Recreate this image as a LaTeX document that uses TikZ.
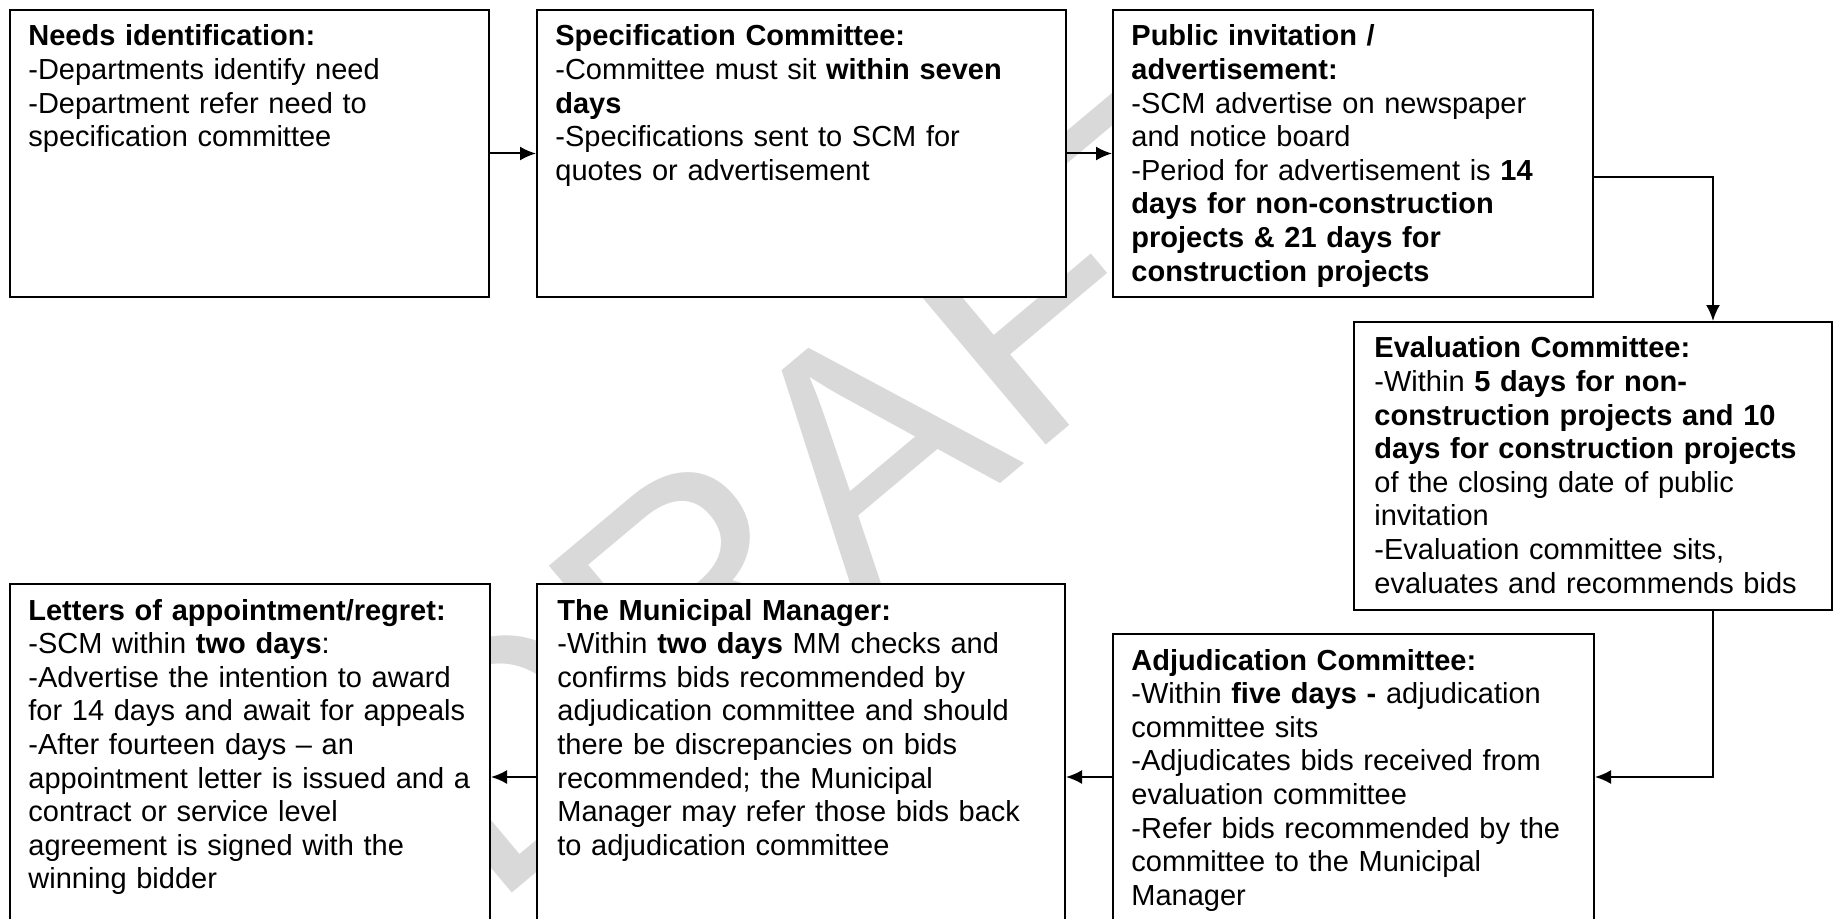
\documentclass[tikz,border=0pt]{standalone}
\usepackage{fontspec}
\setmainfont{Liberation Sans}
\usetikzlibrary{arrows.meta}

\tikzset{
  stage/.style={draw, line width=1pt, fill=white, anchor=north west, inner sep=0pt},
  stagetext/.style={anchor=base west, inner sep=0pt, align=left, font=\fontsize{14.5pt}{16.8pt}\selectfont},
  flow/.style={line width=1pt, -{Latex[length=8pt,width=7pt]}},
  draftmark/.style={text=black!15, font=\fontsize{165pt}{165pt}\selectfont, rotate=40}
}

\begin{document}
\begin{tikzpicture}[x=0.5pt,y=0.5pt]
\useasboundingbox (0,0) rectangle (1833,918);
\clip (0,0) rectangle (1833,918);
\node[draftmark] (draft) at (840,448) {DRAFT};

% top row
\node[stage, minimum width=239.5pt, minimum height=143.5pt] (needs) at (9,909) {};
\node[stage, minimum width=264.5pt, minimum height=143.5pt] (spec) at (536,909) {};
\node[stage, minimum width=240pt, minimum height=143.5pt] (public) at (1112,909) {};
\node[stage, minimum width=239pt, minimum height=144pt] (eval) at (1353,597) {};
% bottom row
\node[stage, minimum width=240.5pt, minimum height=148.5pt] (adjud) at (1112,285) {};
\node[stage, minimum width=264pt, minimum height=173.5pt] (mm) at (536,335) {};
\node[stage, minimum width=240pt, minimum height=173.5pt] (letters) at (9,335) {};

\node[stagetext, text width=225pt] (needstext) at ([shift={(19,-37)}]needs.north west)
  {\textbf{Needs identification:}\\
   -Departments identify need\\
   -Department refer need to\\
   specification committee};
\node[stagetext, text width=250pt] (spectext) at ([shift={(19,-37)}]spec.north west)
  {\textbf{Specification Committee:}\\
   -Committee must sit \textbf{within seven}\\
   \textbf{days}\\
   -Specifications sent to SCM for\\
   quotes or advertisement};
\node[stagetext, text width=225pt] (publictext) at ([shift={(19,-37)}]public.north west)
  {\textbf{Public invitation /}\\
   \textbf{advertisement:}\\
   -SCM advertise on newspaper\\
   and notice board\\
   -Period for advertisement is \textbf{14}\\
   \textbf{days for non-construction}\\
   \textbf{projects \& 21 days for}\\
   \textbf{construction projects}};
\node[stagetext, text width=225pt] (evaltext) at ([shift={(21,-37)}]eval.north west)
  {\textbf{Evaluation Committee:}\\
   -Within \textbf{5 days for non-}\\
   \textbf{construction projects and 10}\\
   \textbf{days for construction projects}\\
   of the closing date of public\\
   invitation\\
   -Evaluation committee sits,\\
   evaluates and recommends bids};
\node[stagetext, text width=225pt] (adjudtext) at ([shift={(19,-37)}]adjud.north west)
  {\textbf{Adjudication Committee:}\\
   -Within \textbf{five days -} adjudication\\
   committee sits\\
   -Adjudicates bids received from\\
   evaluation committee\\
   -Refer bids recommended by the\\
   committee to the Municipal\\
   Manager};
\node[stagetext, text width=250pt] (mmtext) at ([shift={(21,-37)}]mm.north west)
  {\textbf{The Municipal Manager:}\\
   -Within \textbf{two days} MM checks and\\
   confirms bids recommended by\\
   adjudication committee and should\\
   there be discrepancies on bids\\
   recommended; the Municipal\\
   Manager may refer those bids back\\
   to adjudication committee};
\node[stagetext, text width=228pt] (letterstext) at ([shift={(19,-37)}]letters.north west)
  {\textbf{Letters of appointment/regret:}\\
   -SCM within \textbf{two days}:\\
   -Advertise the intention to award\\
   for 14 days and await for appeals\\
   -After fourteen days – an\\
   appointment letter is issued and a\\
   contract or service level\\
   agreement is signed with the\\
   winning bidder};

% connectors
\coordinate (adjin) at ([yshift=-72pt]adjud.north east);
\coordinate (adjout) at ([yshift=-72pt]adjud.north west);
\draw[flow] (needs.east) -- (spec.west);
\draw[flow] (spec.east) -- (public.west);
\draw[flow] ([yshift=-12pt]public.east) -| ([xshift=60pt]eval.north);
\draw[flow] ([xshift=60pt]eval.south) |- (adjin);
\draw[flow] (adjout) -- (adjout -| mm.east);
\draw[flow] (mm.west |- adjout) -- (adjout -| letters.east);
\end{tikzpicture}
\end{document}
